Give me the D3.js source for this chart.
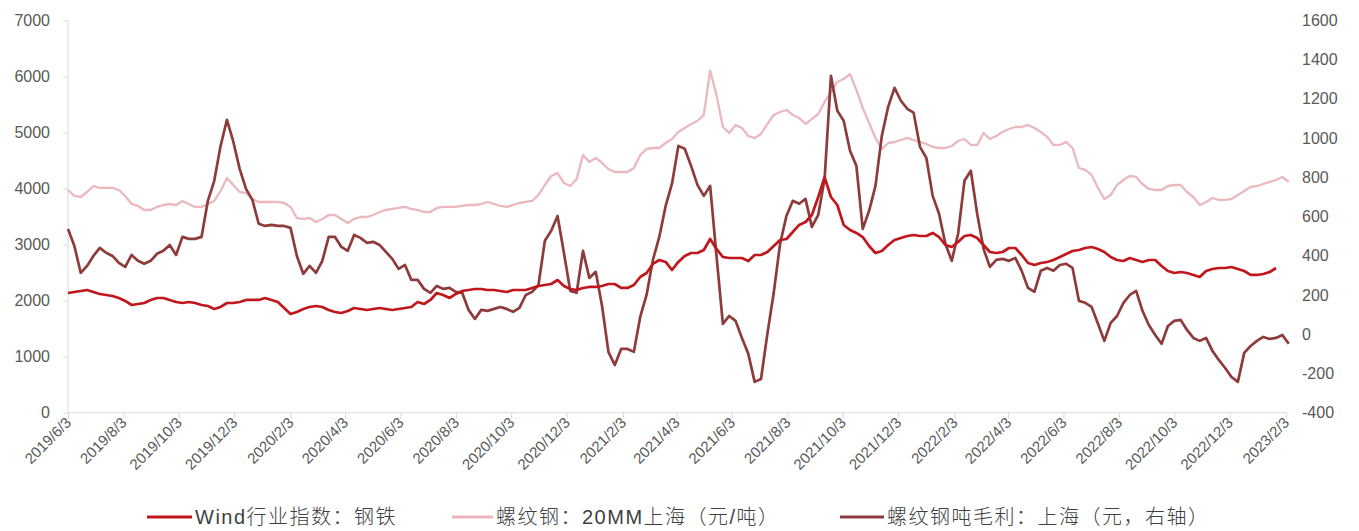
<!DOCTYPE html>
<html>
<head>
<meta charset="utf-8">
<script src="https://cdn.jsdelivr.net/npm/d3@7"></script>
<style>
  html, body { margin: 0; padding: 0; background: #fff; }
  svg { display: block; }
  .tick text { font-family: "Liberation Sans", Arial, sans-serif; }
</style>
</head>
<body>
<svg id="chart" width="1359" height="531"></svg>
<script>
// Weekly observations (Mondays), June 2019 – early Feb 2023
const weeks = d3.utcMonday.range(new Date(Date.UTC(2019, 5, 3)), new Date(Date.UTC(2023, 1, 7)));

// Wind 行业指数：钢铁 (left axis)
const steelIndex = [
  2135, 2153, 2171, 2189, 2153, 2118, 2100, 2082, 2046, 1993,
  1921, 1939, 1957, 2011, 2046, 2046, 2011, 1975, 1957, 1975,
  1957, 1921, 1904, 1850, 1886, 1957, 1957, 1975, 2011, 2011,
  2011, 2046, 2011, 1975, 1868, 1761, 1797, 1850, 1886, 1904,
  1886, 1832, 1797, 1779, 1814, 1868, 1850, 1832, 1850, 1868,
  1850, 1832, 1850, 1868, 1886, 1975, 1939, 2011, 2135, 2100,
  2046, 2118, 2171, 2189, 2207, 2207, 2189, 2189, 2171, 2153,
  2189, 2189, 2189, 2225, 2260, 2278, 2296, 2367, 2260, 2207,
  2189, 2225, 2243, 2243, 2260, 2296, 2296, 2225, 2225, 2278,
  2421, 2492, 2653, 2724, 2689, 2546, 2689, 2796, 2849, 2849,
  2903, 3099, 2920, 2778, 2760, 2760, 2760, 2706, 2813, 2813,
  2867, 2974, 3081, 3099, 3224, 3349, 3402, 3527, 3848, 4200,
  3848, 3705, 3349, 3259, 3206, 3134, 2974, 2849, 2885, 2992,
  3081, 3117, 3152, 3170, 3152, 3152, 3206, 3134, 2992, 2956,
  3045, 3152, 3170, 3117, 2992, 2867, 2849, 2867, 2938, 2938,
  2813, 2671, 2635, 2671, 2689, 2724, 2778, 2831, 2885, 2903,
  2938, 2956, 2920, 2867, 2778, 2724, 2706, 2760, 2724, 2689,
  2724, 2724, 2617, 2528, 2492, 2510, 2492, 2457, 2421, 2528,
  2564, 2581, 2581, 2599, 2564, 2528, 2457, 2457, 2474, 2510, 2581
];

// 螺纹钢：20MM 上海, 元/吨 (left axis)
const rebarPrice = [
  3973, 3866, 3848, 3937, 4044, 4009, 4009, 4009, 3973, 3866,
  3723, 3688, 3616, 3616, 3670, 3705, 3723, 3705, 3777, 3723,
  3670, 3670, 3723, 3777, 3955, 4187, 4062, 3937, 3919, 3812,
  3759, 3759, 3759, 3759, 3741, 3670, 3473, 3456, 3473, 3402,
  3456, 3527, 3527, 3456, 3384, 3456, 3491, 3491, 3527, 3580,
  3616, 3634, 3652, 3670, 3634, 3616, 3580, 3580, 3652, 3670,
  3670, 3670, 3688, 3705, 3705, 3723, 3759, 3723, 3688, 3670,
  3705, 3741, 3759, 3777, 3884, 4062, 4223, 4276, 4098, 4044,
  4169, 4597, 4472, 4544, 4455, 4348, 4294, 4294, 4294, 4365,
  4597, 4704, 4722, 4722, 4811, 4883, 5008, 5079, 5150, 5204,
  5311, 6100, 5668, 5097, 4990, 5133, 5079, 4936, 4901, 4972,
  5150, 5311, 5364, 5400, 5311, 5258, 5150, 5240, 5329, 5543,
  5721, 5900, 5953, 6042, 5757, 5436, 5168, 4901, 4704, 4811,
  4829, 4865, 4901, 4865, 4829, 4794, 4740, 4722, 4722, 4758,
  4847, 4883, 4776, 4776, 4990, 4883, 4936, 5008, 5061, 5097,
  5097, 5133, 5079, 5008, 4919, 4776, 4776, 4829, 4722, 4365,
  4330, 4241, 4009, 3812, 3884, 4062, 4151, 4223, 4205, 4080,
  3991, 3973, 3973, 4044, 4062, 4062, 3937, 3848, 3705, 3759,
  3830, 3795, 3795, 3812, 3884, 3955, 4027, 4044, 4080, 4116,
  4151, 4205, 4116
];

// 螺纹钢吨毛利：上海, 元 (right axis)
const rebarMargin = [
  537, 450, 313, 348, 399, 440, 415, 399, 364, 343,
  404, 374, 359, 374, 410, 425, 455, 404, 496, 486,
  486, 496, 680, 782, 960, 1093, 981, 843, 741, 685,
  563, 552, 557, 552, 552, 542, 399, 308, 348, 313,
  374, 496, 496, 445, 425, 506, 491, 466, 471, 455,
  420, 384, 333, 353, 277, 277, 231, 211, 246, 231,
  236, 216, 211, 124, 78, 124, 119, 129, 139, 129,
  114, 134, 200, 216, 251, 476, 527, 603, 415, 221,
  211, 425, 287, 318, 144, -90, -157, -75, -75, -90,
  88, 200, 379, 496, 654, 767, 960, 945, 858, 761,
  705, 756, 399, 53, 93, 68, -19, -100, -243, -228,
  2, 211, 461, 603, 680, 665, 690, 547, 608, 792,
  1317, 1139, 1088, 935, 858, 537, 629, 756, 1011, 1159,
  1256, 1190, 1149, 1129, 955, 899, 705, 614, 461, 374,
  512, 782, 833, 614, 435, 343, 379, 384, 374, 389,
  323, 236, 216, 323, 338, 323, 353, 359, 338, 170,
  160, 139, 53, -34, 58, 93, 160, 200, 221, 119,
  47, -4, -49, 42, 68, 73, 22, -19, -34, -19,
  -85, -131, -172, -218, -243, -95, -60, -34, -14, -24,
  -19, -4, -49
];

const xTickLabels = [
  "2019/6/3", "2019/8/3", "2019/10/3", "2019/12/3", "2020/2/3", "2020/4/3",
  "2020/6/3", "2020/8/3", "2020/10/3", "2020/12/3", "2021/2/3", "2021/4/3",
  "2021/6/3", "2021/8/3", "2021/10/3", "2021/12/3", "2022/2/3", "2022/4/3",
  "2022/6/3", "2022/8/3", "2022/10/3", "2022/12/3", "2023/2/3"
];
const leftTicks = [0, 1000, 2000, 3000, 4000, 5000, 6000, 7000];
const rightTicks = [-400, -200, 0, 200, 400, 600, 800, 1000, 1200, 1400, 1600];

const seriesNames = ["Wind行业指数：钢铁", "螺纹钢：20MM上海（元/吨）", "螺纹钢吨毛利：上海（元，右轴）"];
const seriesColors = ["#c0161c", "#ebb8bd", "#8e3b3b"];

// ---- layout ----
const plot = { left: 68, right: 1286, top: 20.3, bottom: 412.7 };
const parseTick = d3.utcParse("%Y/%m/%d");
const tickDates = xTickLabels.map(parseTick);

const x = d3.scaleUtc()
  .domain([tickDates[0], tickDates[tickDates.length - 1]])
  .range([plot.left, plot.right]);
const yLeft = d3.scaleLinear().domain([0, 7000]).range([plot.bottom, plot.top]);
const yRight = d3.scaleLinear().domain([-400, 1600]).range([plot.bottom, plot.top]);

const svg = d3.select("#chart");
const axisColor = "#d9d9d9";
const labelColor = "#595959";

// left axis
const gL = svg.append("g")
  .attr("transform", `translate(${plot.left},0)`)
  .call(d3.axisLeft(yLeft).tickValues(leftTicks).tickFormat(d => String(d)).tickSize(5).tickPadding(13));
gL.select(".domain").attr("stroke", axisColor).attr("d", `M0,${plot.top}V${plot.bottom}`);
gL.selectAll(".tick line").attr("stroke", axisColor);
gL.selectAll(".tick text").attr("fill", labelColor).style("font-size", "16px");

// right axis (labels only)
const gR = svg.append("g")
  .attr("transform", `translate(${plot.right},0)`)
  .call(d3.axisRight(yRight).tickValues(rightTicks).tickFormat(d => String(d)).tickSize(0).tickPadding(16));
gR.select(".domain").remove();
gR.selectAll(".tick text").attr("fill", labelColor).style("font-size", "16px");

// bottom axis
const gB = svg.append("g")
  .attr("transform", `translate(0,${plot.bottom})`)
  .call(d3.axisBottom(x).tickValues(tickDates).tickFormat((d, i) => xTickLabels[i]).tickSize(6));
gB.select(".domain").attr("stroke", axisColor).attr("d", `M${plot.left},0H${plot.right}`);
gB.selectAll(".tick line").attr("stroke", axisColor);
gB.selectAll(".tick text")
  .attr("fill", labelColor)
  .style("font-size", "15px")
  .style("text-anchor", "end")
  .attr("x", -5)
  .attr("y", 5)
  .attr("dy", "0.35em")
  .attr("transform", "rotate(-45)");

// ---- series ----
const lineLeft = d3.line().x(d => x(d.date)).y(d => yLeft(d.value));
const lineRight = d3.line().x(d => x(d.date)).y(d => yRight(d.value));
const pair = vals => vals.map((v, i) => ({ date: weeks[i], value: v }));

svg.append("path")
  .datum(pair(rebarPrice))
  .attr("fill", "none")
  .attr("stroke", seriesColors[1])
  .attr("stroke-width", 2.3)
  .attr("stroke-linejoin", "round")
  .attr("d", lineLeft);

svg.append("path")
  .datum(pair(rebarMargin))
  .attr("fill", "none")
  .attr("stroke", seriesColors[2])
  .attr("stroke-width", 2.7)
  .attr("stroke-linejoin", "round")
  .attr("d", lineRight);

svg.append("path")
  .datum(pair(steelIndex))
  .attr("fill", "none")
  .attr("stroke", seriesColors[0])
  .attr("stroke-width", 2.7)
  .attr("stroke-linejoin", "round")
  .attr("d", lineLeft);

// ---- legend ----
const legendItems = [
  { x: 147, len: 45 },
  { x: 452, len: 41 },
  { x: 840, len: 44 }
];
const legend = svg.append("g").attr("transform", "translate(0,517)");
legendItems.forEach((it, i) => {
  legend.append("line")
    .attr("x1", it.x).attr("x2", it.x + it.len)
    .attr("y1", 0).attr("y2", 0)
    .attr("stroke", seriesColors[i])
    .attr("stroke-width", 3);
  legend.append("text")
    .attr("x", it.x + it.len + 3)
    .attr("y", 0)
    .attr("dy", "0.36em")
    .attr("fill", "#404040")
    .style("font-family", "'Liberation Sans', 'Noto Sans CJK SC', sans-serif")
    .style("font-size", "20px")
    .style("font-weight", 300)
    .style("letter-spacing", "1.5px")
    .text(seriesNames[i]);
});
</script>
</body>
</html>
